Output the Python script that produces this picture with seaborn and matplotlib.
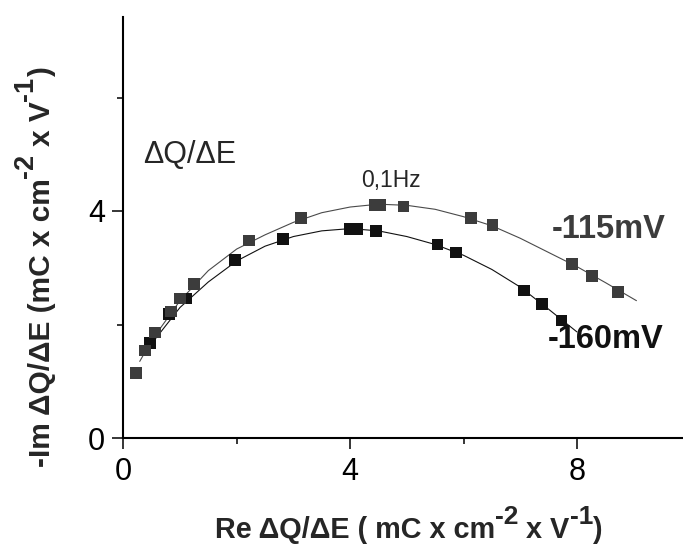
import numpy as np
import pandas as pd
import matplotlib
matplotlib.use("Agg")
import matplotlib.pyplot as plt
import seaborn as sns

# --- dados (plano complexo da capacitância) ---
# -115 mV : pontos experimentais
re_115 = [0.22, 0.38, 0.56, 0.84, 1.00, 1.25, 2.22, 3.13, 4.44, 4.53, 4.94, 6.13, 6.51, 7.91, 8.27, 8.73]
im_115 = [1.14, 1.54, 1.86, 2.23, 2.46, 2.71, 3.48, 3.88, 4.11, 4.11, 4.08, 3.87, 3.75, 3.07, 2.85, 2.57]
# -160 mV : pontos experimentais
re_160 = [0.47, 0.80, 1.11, 1.97, 2.82, 4.00, 4.12, 4.46, 5.54, 5.87, 7.07, 7.38, 7.73]
im_160 = [1.67, 2.18, 2.46, 3.14, 3.50, 3.68, 3.68, 3.65, 3.41, 3.27, 2.60, 2.36, 2.07]

# curvas ajustadas
fit_re_115 = [0.29, 0.5, 1.0, 1.5, 2.0, 2.5, 3.0, 3.5, 4.0, 4.5, 5.0, 5.5, 6.0, 6.5, 7.0, 7.5, 8.0, 8.5, 9.05]
fit_im_115 = [1.35, 1.72, 2.42, 2.95, 3.33, 3.58, 3.80, 3.97, 4.07, 4.12, 4.10, 4.03, 3.90, 3.74, 3.52, 3.27, 3.02, 2.74, 2.42]
fit_re_160 = [0.45, 1.0, 1.5, 2.0, 2.5, 3.0, 3.5, 4.0, 4.5, 5.0, 5.5, 6.0, 6.5, 7.0, 7.5, 8.0]
fit_im_160 = [1.60, 2.30, 2.75, 3.12, 3.38, 3.55, 3.65, 3.69, 3.65, 3.55, 3.41, 3.22, 2.97, 2.66, 2.27, 1.87]

major_ticks = [0, 4, 8]
minor_ticks = [2, 6]

# rótulos: (texto, é expoente?)
xlabel_partes = [('Re ΔQ/ΔE ( mC x cm', False), ('-2', True), (' x V', False), ('-1', True), (')', False)]
ylabel_partes = [('-Im ΔQ/ΔE (mC x cm', False), ('-2', True), (' x V', False), ('-1', True), (')', False)]

df_115 = pd.DataFrame({'re': re_115, 'im': im_115})
df_160 = pd.DataFrame({'re': re_160, 'im': im_160})
fit_115 = pd.DataFrame({'re': fit_re_115, 'im': fit_im_115})
fit_160 = pd.DataFrame({'re': fit_re_160, 'im': fit_im_160})

sns.set_style("ticks")
plt.rcParams['font.family'] = ['Liberation Sans', 'DejaVu Sans']

cor_115 = '#3c3c3c'
cor_160 = '#111111'

fig = plt.figure(figsize=(6.83, 5.45), dpi=100)
ax = fig.add_axes([123.3 / 683, 107 / 545, (683 - 123.3) / 683, (438 - 16.7) / 545])

sns.lineplot(data=fit_160, x='re', y='im', sort=False, color=cor_160, linewidth=0.8, ax=ax)
sns.lineplot(data=fit_115, x='re', y='im', sort=False, color='#4a4a4a', linewidth=0.8, ax=ax)
sns.scatterplot(data=df_160, x='re', y='im', marker='s', s=72, color=cor_160, edgecolor='none', ax=ax, zorder=3)
sns.scatterplot(data=df_115, x='re', y='im', marker='s', s=72, color=cor_115, edgecolor='none', ax=ax, zorder=4)

ax.set_xticks(major_ticks)
ax.set_yticks(major_ticks)
ax.set_xticks(minor_ticks, minor=True)
ax.set_yticks(minor_ticks, minor=True)
ax.set_xlim(0, (683 - 123.3) / 56.7)
ax.set_ylim(0, (438 - 16.7) / 56.75)
ax.tick_params(which='major', length=8, width=1.1, labelsize=22, pad=6, color='black', labelcolor='black')
ax.tick_params(which='minor', length=4.5, width=1.1, color='black')
ax.tick_params(axis='y', which='major', pad=5)
for lado in ['top', 'right']:
    ax.spines[lado].set_visible(False)
for lado in ['left', 'bottom']:
    ax.spines[lado].set_linewidth(1.5)
    ax.spines[lado].set_color('black')
ax.set_xlabel('')
ax.set_ylabel('')

renderer = fig.canvas.get_renderer()


def texto_composto(partes, x0, y0, tam, tam_sup, sobe, vertical=False):
    # escreve o rótulo pedaço por pedaço, expoentes em tamanho quase cheio
    pos = x0 if not vertical else y0
    esp = fig.text(0, 0, 'a a', fontsize=tam, fontweight='bold')
    sem = fig.text(0, 0, 'aa', fontsize=tam, fontweight='bold')
    largura_esp = esp.get_window_extent(renderer).width - sem.get_window_extent(renderer).width
    esp.remove()
    sem.remove()
    for s, sup in partes:
        if s.startswith(' '):
            pos += largura_esp
            s = s.lstrip()
        size = tam_sup if sup else tam
        d = sobe if sup else 0
        if vertical:
            t = fig.text(x0 - d, pos, s, fontsize=size, fontweight='bold', rotation=90,
                         rotation_mode='anchor', ha='left', va='baseline', transform=None)
            pos += t.get_window_extent(renderer).height
        else:
            t = fig.text(pos, y0 + d, s, fontsize=size, fontweight='bold',
                         ha='left', va='baseline', transform=None)
            pos += t.get_window_extent(renderer).width


texto_composto(xlabel_partes, 215, 545 - 538.5, 20.8, 19, 15)
texto_composto(ylabel_partes, 50, 545 - 467, 21.5, 19.5, 17, vertical=True)

# anotações
ax.text(0.35, 4.85, 'ΔQ/ΔE', fontsize=22, ha='left', va='baseline')
ax.text(4.72, 4.42, '0,1Hz', fontsize=16.5, ha='center', va='baseline')
ax.text(7.56, 3.52, '-115mV', fontsize=23.5, fontweight='bold', color=cor_115, ha='left', va='baseline')
ax.text(7.49, 1.59, '-160mV', fontsize=23.5, fontweight='bold', color=cor_160, ha='left', va='baseline')

fig.savefig('out.png', dpi=100)
